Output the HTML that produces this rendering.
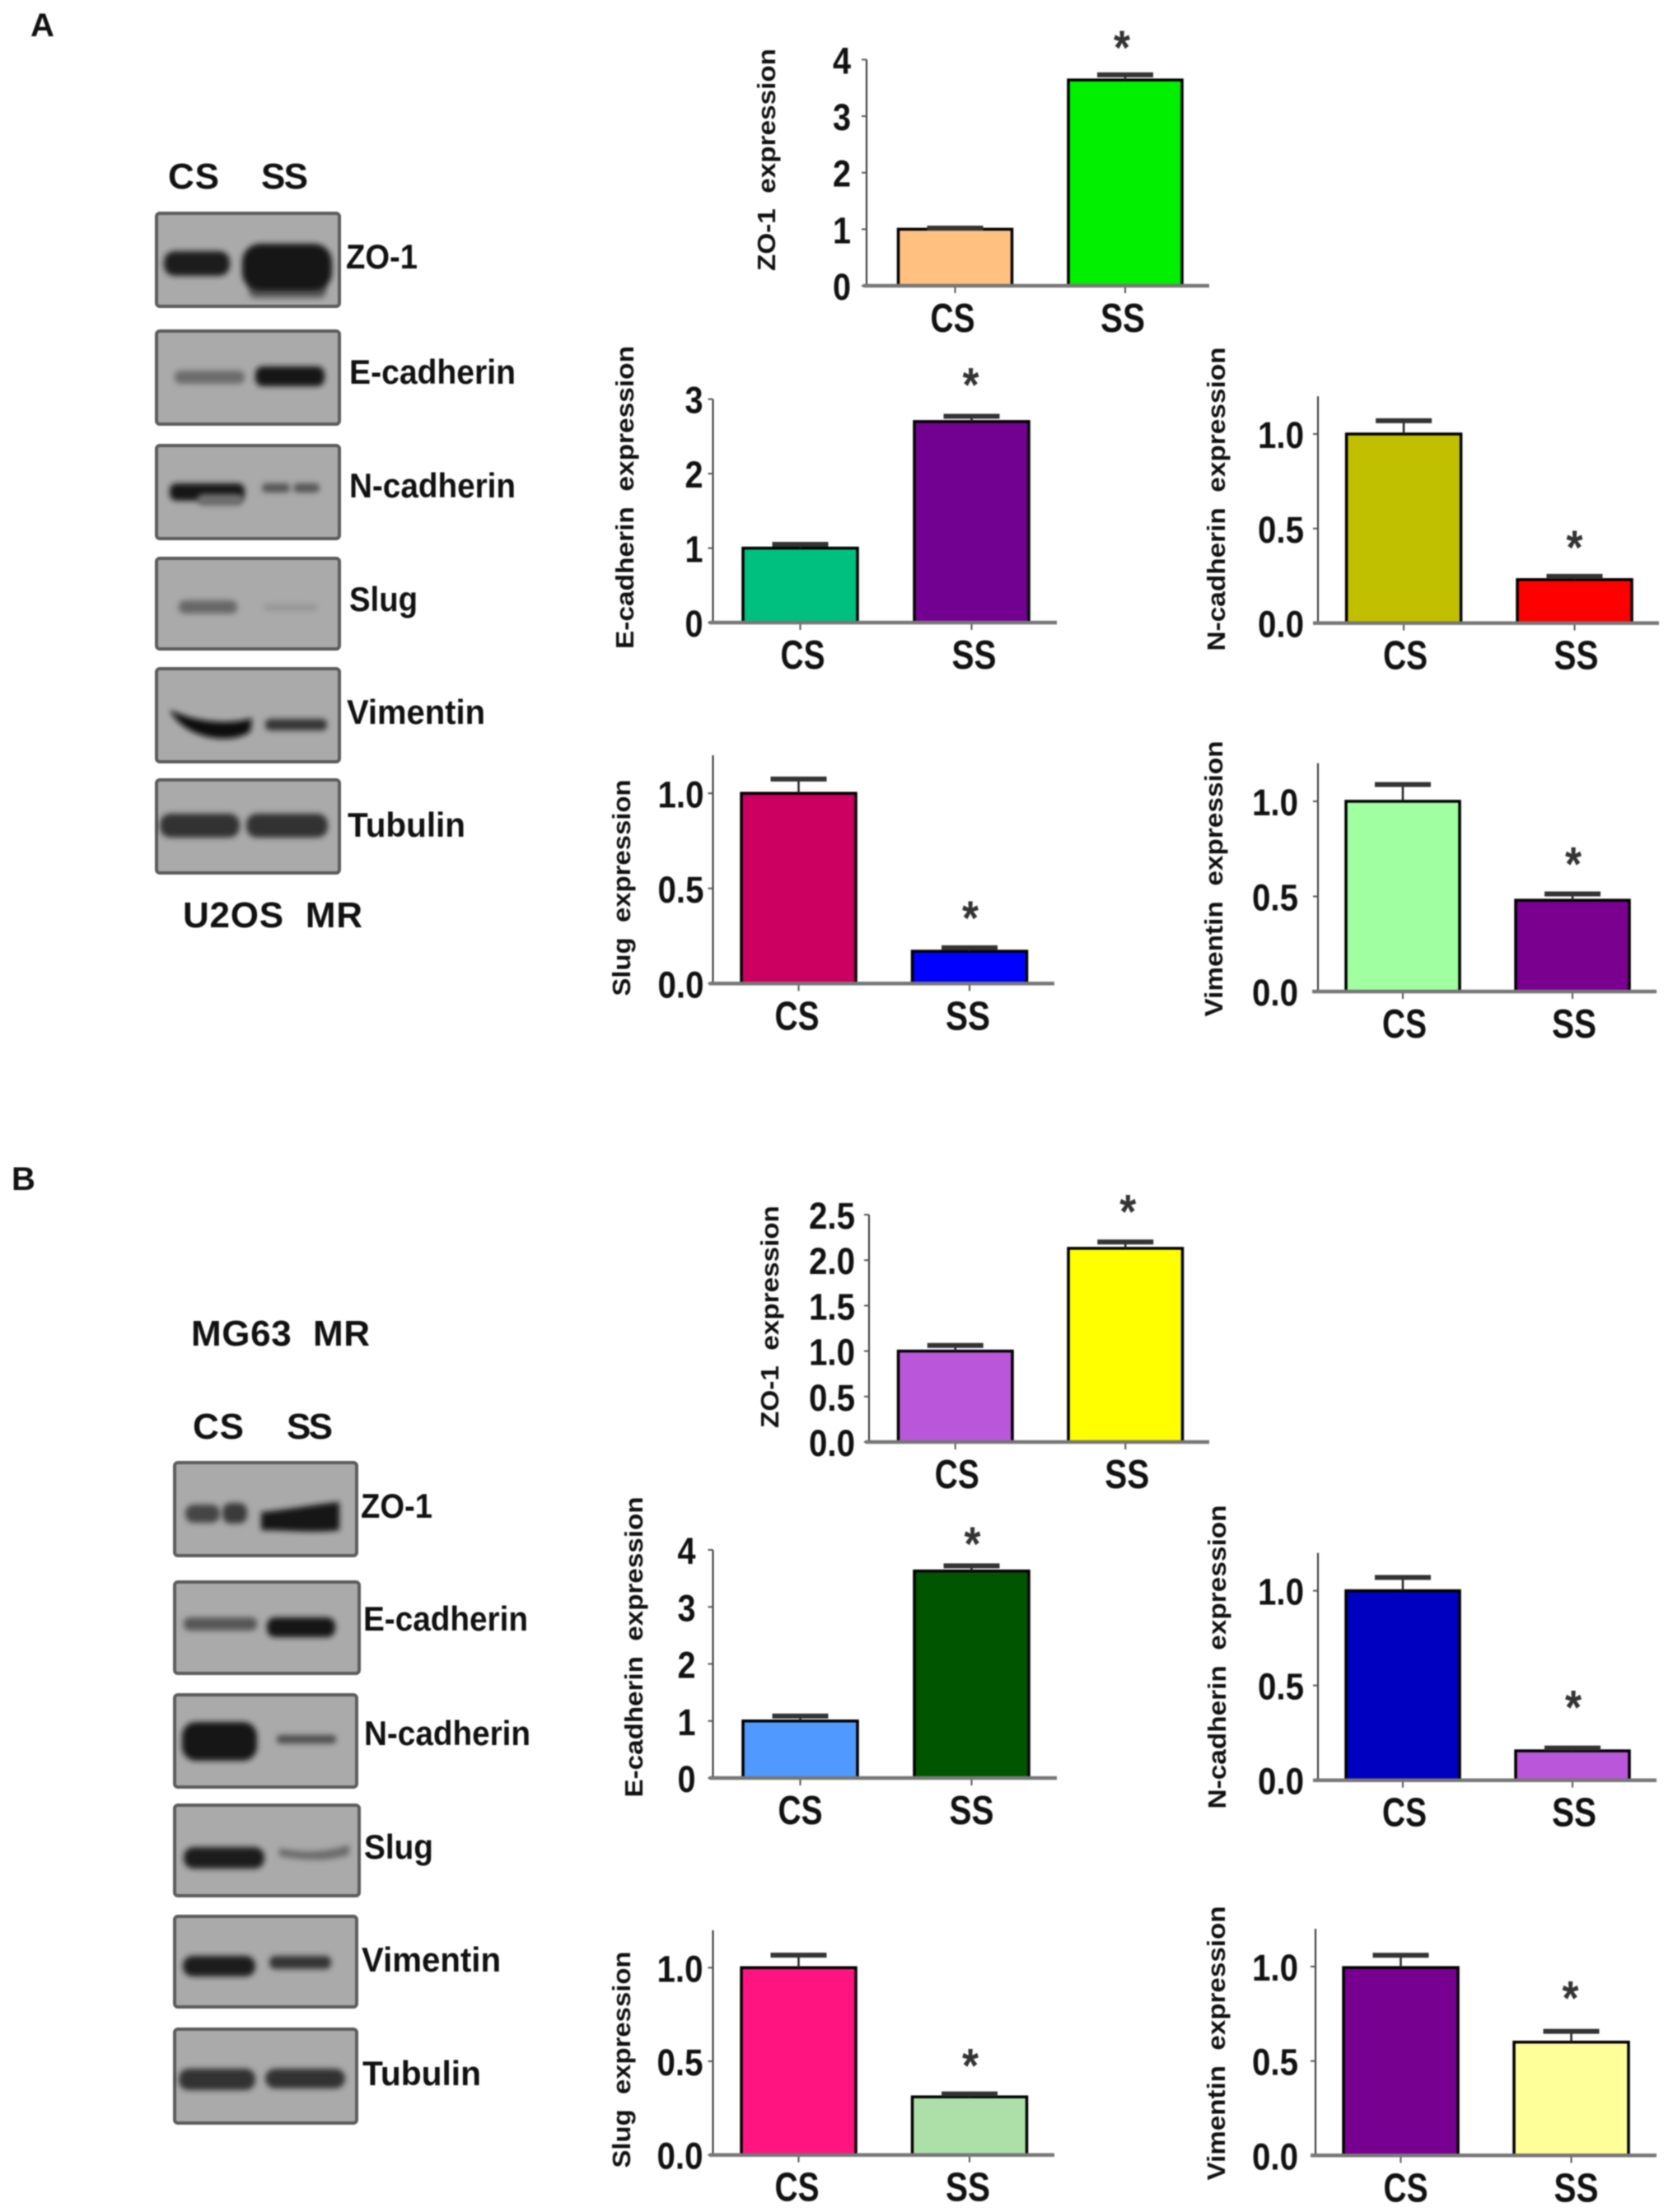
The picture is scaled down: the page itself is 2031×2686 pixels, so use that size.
<!DOCTYPE html>
<html lang="en">
<head>
<meta charset="utf-8">
<title>EMT marker western blots and expression charts</title>
<style>
  html, body { margin: 0; padding: 0; background: #fff; }
  #figure { display: block; width: 2031px; height: 2686px; filter: blur(0.7px); }
  text { font-family: "Liberation Sans", sans-serif; font-weight: bold; fill: #111; white-space: pre; }
  .panel { fill: #aaaaaa; stroke: #5c5c5c; stroke-width: 4; }
  .lab { font-size: 42px; }
  .head { font-size: 44px; }
</style>
</head>
<body>
<svg id="figure" xmlns="http://www.w3.org/2000/svg" width="2031" height="2686" viewBox="0 0 2031 2686">
  <defs>
    <filter id="soft" x="-30%" y="-80%" width="160%" height="260%"><feGaussianBlur stdDeviation="3.5"></feGaussianBlur></filter>
  </defs>
  <rect x="0" y="0" width="2031" height="2686" fill="#fff"></rect>

  <text x="37" y="44" font-size="40">A</text>
  <text x="14" y="1445" font-size="40">B</text>

  <g>
    <text class="head" x="204" y="229" textLength="62" lengthAdjust="spacing">CS</text>
    <text class="head" x="317" y="229" textLength="57" lengthAdjust="spacing">SS</text>

    <rect class="panel" x="190" y="259" width="222" height="113" rx="4"></rect>
    <rect x="199" y="305" width="80" height="30" rx="13" fill="#1e1e1e" filter="url(#soft)"></rect>
    <rect x="302" y="340" width="94" height="22" rx="8" fill="#5a5a5a" filter="url(#soft)"></rect>
    <rect x="294" y="296" width="109" height="57" rx="22" fill="#161616" filter="url(#soft)"></rect>

    <rect class="panel" x="190" y="402" width="222" height="113" rx="4"></rect>
    <rect x="212" y="450" width="85" height="16" rx="7" fill="#6c6c6c" filter="url(#soft)"></rect>
    <rect x="310" y="445" width="84" height="24" rx="9" fill="#141414" filter="url(#soft)"></rect>

    <rect class="panel" x="190" y="541" width="222" height="113" rx="4"></rect>
    <rect x="206" y="587" width="91" height="21" rx="8" fill="#121212" filter="url(#soft)"></rect>
    <rect x="240" y="600" width="55" height="14" rx="6" fill="#6e6e6e" filter="url(#soft)"></rect>
    <rect x="318" y="587" width="34" height="11" rx="5" fill="#555" filter="url(#soft)"></rect>
    <rect x="356" y="587" width="32" height="11" rx="5" fill="#555" filter="url(#soft)"></rect>

    <rect class="panel" x="190" y="678" width="222" height="110" rx="4"></rect>
    <rect x="217" y="729" width="71" height="16" rx="7" fill="#686868" filter="url(#soft)"></rect>
    <rect x="320" y="733" width="66" height="9" rx="4" fill="#979797" filter="url(#soft)"></rect>

    <rect class="panel" x="190" y="812" width="222" height="113" rx="4"></rect>
    <path d="M206 862 C240 878 280 880 306 872 L304 888 C285 904 225 900 206 862 Z" fill="#111" filter="url(#soft)"></path>
    <rect x="322" y="873" width="75" height="14" rx="6" fill="#363636" filter="url(#soft)"></rect>

    <rect class="panel" x="190" y="947" width="222" height="113" rx="4"></rect>
    <rect x="194" y="988" width="97" height="29" rx="13" fill="#333" filter="url(#soft)"></rect>
    <rect x="299" y="988" width="99" height="29" rx="13" fill="#333" filter="url(#soft)"></rect>

    <text class="lab" x="420" y="326" textLength="87" lengthAdjust="spacingAndGlyphs">ZO-1</text>
    <text class="lab" x="424" y="466" textLength="202" lengthAdjust="spacingAndGlyphs">E-cadherin</text>
    <text class="lab" x="424" y="604" textLength="202" lengthAdjust="spacingAndGlyphs">N-cadherin</text>
    <text class="lab" x="424" y="742" textLength="83" lengthAdjust="spacingAndGlyphs">Slug</text>
    <text class="lab" x="421" y="879" textLength="168" lengthAdjust="spacingAndGlyphs">Vimentin</text>
    <text class="lab" x="422" y="1016" textLength="143" lengthAdjust="spacingAndGlyphs">Tubulin</text>
    <text class="head" x="222" y="1126" textLength="218" lengthAdjust="spacing">U2OS  MR</text>
  </g>

  <g>
    <text class="head" x="232" y="1634" textLength="217" lengthAdjust="spacing">MG63  MR</text>
    <text class="head" x="234" y="1747" textLength="62" lengthAdjust="spacing">CS</text>
    <text class="head" x="348" y="1747" textLength="56" lengthAdjust="spacing">SS</text>

    <rect class="panel" x="212" y="1776" width="221" height="113" rx="4"></rect>
    <rect x="225" y="1827" width="42" height="22" rx="10" fill="#444" filter="url(#soft)"></rect>
    <rect x="270" y="1825" width="30" height="25" rx="10" fill="#3a3a3a" filter="url(#soft)"></rect>
    <path d="M317 1836 C345 1834 385 1826 412 1824 L412 1858 C385 1862 345 1858 317 1858 Z" fill="#181818" filter="url(#soft)"></path>

    <rect class="panel" x="212" y="1921" width="224" height="111" rx="4"></rect>
    <rect x="223" y="1964" width="89" height="16" rx="7" fill="#565656" filter="url(#soft)"></rect>
    <rect x="324" y="1964" width="83" height="24" rx="10" fill="#161616" filter="url(#soft)"></rect>

    <rect class="panel" x="212" y="2058" width="221" height="112" rx="4"></rect>
    <rect x="221" y="2091" width="91" height="47" rx="17" fill="#121212" filter="url(#soft)"></rect>
    <rect x="336" y="2107" width="72" height="10" rx="4" fill="#4c4c4c" filter="url(#soft)"></rect>

    <rect class="panel" x="212" y="2192" width="224" height="110" rx="4"></rect>
    <rect x="223" y="2243" width="98" height="26" rx="12" fill="#1e1e1e" filter="url(#soft)"></rect>
    <path d="M339 2244 C365 2250 395 2250 424 2240 L424 2252 C395 2262 365 2258 339 2254 Z" fill="#6a6a6a" filter="url(#soft)"></path>

    <rect class="panel" x="212" y="2327" width="221" height="110" rx="4"></rect>
    <rect x="222" y="2375" width="88" height="25" rx="12" fill="#1e1e1e" filter="url(#soft)"></rect>
    <rect x="327" y="2375" width="75" height="16" rx="7" fill="#363636" filter="url(#soft)"></rect>

    <rect class="panel" x="212" y="2464" width="221" height="114" rx="4"></rect>
    <rect x="217" y="2512" width="93" height="26" rx="12" fill="#303030" filter="url(#soft)"></rect>
    <rect x="322" y="2512" width="97" height="24" rx="12" fill="#333" filter="url(#soft)"></rect>

    <text class="lab" x="438" y="1843" textLength="87" lengthAdjust="spacingAndGlyphs">ZO-1</text>
    <text class="lab" x="441" y="1980" textLength="200" lengthAdjust="spacingAndGlyphs">E-cadherin</text>
    <text class="lab" x="442" y="2119" textLength="202" lengthAdjust="spacingAndGlyphs">N-cadherin</text>
    <text class="lab" x="442" y="2257" textLength="84" lengthAdjust="spacingAndGlyphs">Slug</text>
    <text class="lab" x="439" y="2394" textLength="169" lengthAdjust="spacingAndGlyphs">Vimentin</text>
    <text class="lab" x="440" y="2532" textLength="144" lengthAdjust="spacingAndGlyphs">Tubulin</text>
  </g>

  <g id="charts"></g>
</svg>

<script>
const categories = ['CS', 'SS'];

const aZo1Values = [1.0, 3.64];
const aZo1Errors = [0.02, 0.09];
const aZo1Ticks = ['0', '1', '2', '3', '4'];

const aEcadValues = [1.0, 2.70];
const aEcadErrors = [0.05, 0.07];
const aEcadTicks = ['0', '1', '2', '3'];

const aNcadValues = [1.0, 0.23];
const aNcadErrors = [0.07, 0.017];
const aNcadTicks = ['0.0', '0.5', '1.0'];

const aSlugValues = [1.0, 0.17];
const aSlugErrors = [0.075, 0.018];
const aSlugTicks = ['0.0', '0.5', '1.0'];

const aVimValues = [1.0, 0.48];
const aVimErrors = [0.088, 0.033];
const aVimTicks = ['0.0', '0.5', '1.0'];

const bZo1Values = [1.0, 2.13];
const bZo1Errors = [0.062, 0.07];
const bZo1Ticks = ['0.0', '0.5', '1.0', '1.5', '2.0', '2.5'];

const bEcadValues = [1.0, 3.63];
const bEcadErrors = [0.087, 0.09];
const bEcadTicks = ['0', '1', '2', '3', '4'];

const bNcadValues = [1.0, 0.155];
const bNcadErrors = [0.07, 0.015];
const bNcadTicks = ['0.0', '0.5', '1.0'];

const bSlugValues = [1.0, 0.31];
const bSlugErrors = [0.067, 0.016];
const bSlugTicks = ['0.0', '0.5', '1.0'];

const bVimValues = [0.995, 0.60];
const bVimErrors = [0.065, 0.057];
const bVimTicks = ['0.0', '0.5', '1.0'];

const NS = 'http://www.w3.org/2000/svg';
const root = document.getElementById('charts');

function svgEl(parent, tag, name) {
  const el = document.createElementNS(NS, tag);
  
  
  parent.appendChild(el);
  return el;
}

function setAll(el, props) {
  Object.keys(props).forEach(function (k) { el.setAttribute(k, props[k]); });
  return el;
}

function drawChart(layout, values, errors, ticks) {
  const g = svgEl(root, 'g', layout.id + '-chart');
  const tickMax = parseFloat(ticks[ticks.length - 1]);
  const yScale = function (v) { return layout.y0 - v * (layout.y0 - layout.yTick) / tickMax; };
  const xLeft = function (i) { return layout.barStart + i * layout.barStep; };
  const xMid = function (i) { return xLeft(i) + layout.barWidth / 2; };
  const axisTopValue = layout.axisMax || tickMax;

  const title = svgEl(g, 'text', layout.id + '-y-axis-title');
  setAll(title, {
    transform: 'translate(' + layout.titleX + ',' + layout.titleY + ') rotate(-90)',
    'text-anchor': 'middle',
    'font-size': 31,
    textLength: layout.titleLen,
    lengthAdjust: 'spacingAndGlyphs'
  });
  title.textContent = layout.title + '  expression';

  const yAxis = svgEl(g, 'line', layout.id + '-y-axis');
  setAll(yAxis, {
    x1: layout.axisX, x2: layout.axisX,
    y1: yScale(axisTopValue), y2: layout.y0,
    stroke: '#333', 'stroke-width': 2
  });

  ticks.forEach(function (label) {
    const v = parseFloat(label);
    const mark = svgEl(g, 'line', layout.id + '-y-tick-' + label);
    setAll(mark, {
      x1: layout.axisX - 6, x2: layout.axisX,
      y1: yScale(v), y2: yScale(v),
      stroke: '#555', 'stroke-width': 2
    });
    const text = svgEl(g, 'text', layout.id + '-y-tick-label-' + label);
    setAll(text, {
      x: layout.axisX - layout.tickGap,
      y: yScale(v) + 17,
      'text-anchor': 'end',
      'font-size': 45,
      textLength: label.length > 1 ? 56 : 22,
      lengthAdjust: 'spacingAndGlyphs'
    });
    text.textContent = label;
  });

  categories.forEach(function (cat, i) {
    const key = layout.id + '-' + cat.toLowerCase();
    const bar = svgEl(g, 'rect', key + '-bar');
    setAll(bar, {
      x: xLeft(i),
      y: yScale(values[i]),
      width: layout.barWidth,
      height: layout.y0 - yScale(values[i]),
      fill: layout.colors[i],
      stroke: '#000',
      'stroke-width': 3.5
    });
    const errTop = yScale(values[i] + errors[i]);
    const stem = svgEl(g, 'line', key + '-error-stem');
    setAll(stem, {
      x1: xMid(i), x2: xMid(i),
      y1: yScale(values[i]), y2: errTop,
      stroke: '#222', 'stroke-width': 2.5
    });
    const cap = svgEl(g, 'line', key + '-error-cap');
    setAll(cap, {
      x1: xMid(i) - 34, x2: xMid(i) + 34,
      y1: errTop, y2: errTop,
      stroke: '#333', 'stroke-width': 6
    });
    const xTick = svgEl(g, 'line', key + '-x-tick');
    setAll(xTick, {
      x1: xMid(i), x2: xMid(i),
      y1: layout.y0, y2: layout.y0 + 9,
      stroke: '#555', 'stroke-width': 2
    });
    const xLabel = svgEl(g, 'text', key + '-x-label');
    setAll(xLabel, {
      x: xMid(i) + layout.labelDx,
      y: layout.y0 + 56,
      'text-anchor': 'middle',
      'font-size': 49,
      textLength: 54,
      lengthAdjust: 'spacingAndGlyphs'
    });
    xLabel.textContent = cat;
  });

  const xAxis = svgEl(g, 'line', layout.id + '-x-axis');
  setAll(xAxis, {
    x1: layout.axisStart, x2: layout.axisEnd,
    y1: layout.y0, y2: layout.y0,
    stroke: '#777', 'stroke-width': 4.5
  });

  const star = svgEl(g, 'text', layout.id + '-significance-star');
  setAll(star, {
    x: xMid(1) + layout.starDx,
    y: yScale(values[1] + errors[1]) - layout.starGap + 27,
    'text-anchor': 'middle',
    'font-size': 58,
    textLength: 20,
    lengthAdjust: 'spacingAndGlyphs',
    style: 'fill: #333;'
  });
  star.textContent = '*';
}

drawChart({ id: 'a-zo1', title: 'ZO-1', titleX: 941, titleY: 194, titleLen: 270, axisX: 1052, axisStart: 1048, axisEnd: 1468, y0: 347, yTick: 72.4, tickGap: 19, barStart: 1090.5, barStep: 206.5, barWidth: 138, labelDx: -3, starDx: -4, starGap: 40, colors: ['#FFC080', '#00F000'] }, aZo1Values, aZo1Errors, aZo1Ticks);

drawChart({ id: 'a-e-cadherin', title: 'E-cadherin', titleX: 769, titleY: 604, titleLen: 368, axisX: 865.5, axisStart: 861, axisEnd: 1283, y0: 756, yTick: 484.7, tickGap: 12, barStart: 902, barStep: 208, barWidth: 139, labelDx: 3, starDx: -1, starGap: 45, colors: ['#00C080', '#720090'] }, aEcadValues, aEcadErrors, aEcadTicks);

drawChart({ id: 'a-n-cadherin', title: 'N-cadherin', titleX: 1487, titleY: 606, titleLen: 369, axisX: 1600, axisStart: 1594, axisEnd: 2014, y0: 756.6, yTick: 527, axisMax: 1.2, tickGap: 17, barStart: 1634.6, barStep: 207.4, barWidth: 139, labelDx: 2, starDx: 0, starGap: 42, colors: ['#C0C000', '#FF0000'] }, aNcadValues, aNcadErrors, aNcadTicks);

drawChart({ id: 'a-slug', title: 'Slug', titleX: 765, titleY: 1078, titleLen: 263, axisX: 865.5, axisStart: 861, axisEnd: 1280, y0: 1194.3, yTick: 963.3, axisMax: 1.2, tickGap: 11, barStart: 900, barStep: 207.5, barWidth: 139, labelDx: -2, starDx: 1, starGap: 43, colors: ['#CC0060', '#0000FF'] }, aSlugValues, aSlugErrors, aSlugTicks);

drawChart({ id: 'a-vimentin', title: 'Vimentin', titleX: 1484, titleY: 1067, titleLen: 335, axisX: 1600, axisStart: 1593, axisEnd: 2011, y0: 1204, yTick: 973, axisMax: 1.2, tickGap: 24, barStart: 1634, barStep: 206, barWidth: 138, labelDx: 2, starDx: 1, starGap: 43, colors: ['#A0FFA0', '#7A0090'] }, aVimValues, aVimErrors, aVimTicks);

drawChart({ id: 'b-zo1', title: 'ZO-1', titleX: 945, titleY: 1599, titleLen: 270, axisX: 1055, axisStart: 1050.6, axisEnd: 1468, y0: 1751, yTick: 1475, tickGap: 17, barStart: 1090.5, barStep: 206.5, barWidth: 138.5, labelDx: 2, starDx: 3, starGap: 43.5, colors: ['#B956D9', '#FFFF00'] }, bZo1Values, bZo1Errors, bZo1Ticks);

drawChart({ id: 'b-e-cadherin', title: 'E-cadherin', titleX: 780, titleY: 2000, titleLen: 365, axisX: 865.5, axisStart: 861, axisEnd: 1283, y0: 2159, yTick: 1882, tickGap: 21, barStart: 902, barStep: 208, barWidth: 139, labelDx: 0, starDx: 1, starGap: 33.5, colors: ['#5099FF', '#005500'] }, bEcadValues, bEcadErrors, bEcadTicks);

drawChart({ id: 'b-n-cadherin', title: 'N-cadherin', titleX: 1488, titleY: 2012, titleLen: 369, axisX: 1600, axisStart: 1594, axisEnd: 2011, y0: 2161.7, yTick: 1931.6, axisMax: 1.2, tickGap: 17, barStart: 1634, barStep: 206, barWidth: 138, labelDx: 2, starDx: 1, starGap: 56, colors: ['#0000C0', '#B956D9'] }, bNcadValues, bNcadErrors, bNcadTicks);

drawChart({ id: 'b-slug', title: 'Slug', titleX: 765, titleY: 2501, titleLen: 263, axisX: 865.5, axisStart: 861, axisEnd: 1280, y0: 2616.7, yTick: 2389.3, axisMax: 1.2, tickGap: 12, barStart: 900, barStep: 207.5, barWidth: 139, labelDx: -2, starDx: 1, starGap: 41, colors: ['#FF1480', '#ADE0A8'] }, bSlugValues, bSlugErrors, bSlugTicks);

drawChart({ id: 'b-vimentin', title: 'Vimentin', titleX: 1487, titleY: 2481, titleLen: 333, axisX: 1597, axisStart: 1591, axisEnd: 2011, y0: 2617.3, yTick: 2388, axisMax: 1.2, tickGap: 21, barStart: 1631, barStep: 207, barWidth: 139, labelDx: 6, starDx: -1, starGap: 47, colors: ['#780090', '#FFFF99'] }, bVimValues, bVimErrors, bVimTicks);
</script>
</body>
</html>
